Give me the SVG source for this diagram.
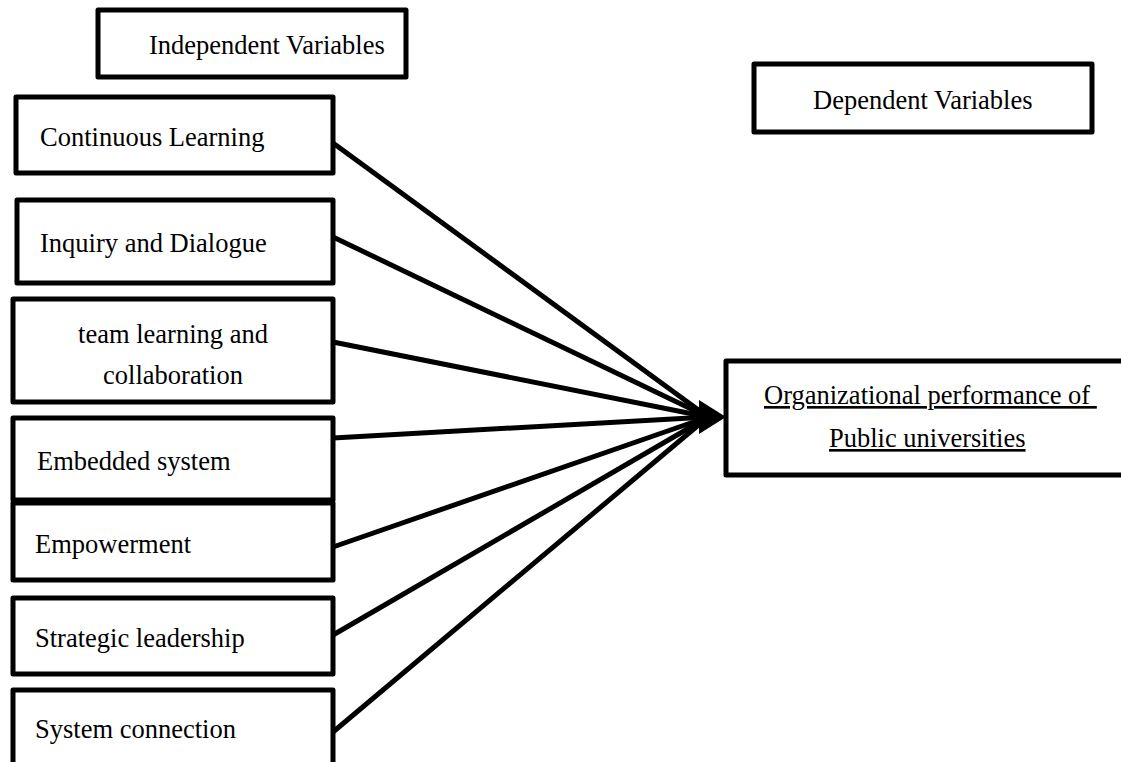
<svg xmlns="http://www.w3.org/2000/svg" width="1121" height="762" viewBox="0 0 1121 762">
<style>
.box{fill:#fff;stroke:#000;stroke-width:5;stroke-linejoin:round}
.t{font-family:"Liberation Serif","Times New Roman",serif;font-size:26.5px;fill:#000}
.u{text-decoration:underline;white-space:pre}
.c{stroke:#000;stroke-width:5;fill:none}
</style>
<rect width="1121" height="762" fill="#fff"/>
<g id="connectors">
<line class="c" x1="333" y1="143" x2="708" y2="417"/>
<line class="c" x1="333" y1="237" x2="708" y2="417"/>
<line class="c" x1="333" y1="342" x2="708" y2="417"/>
<line class="c" x1="333" y1="438" x2="708" y2="417"/>
<line class="c" x1="333" y1="547" x2="708" y2="417"/>
<line class="c" x1="333" y1="635" x2="708" y2="417"/>
<line class="c" x1="333" y1="732" x2="708" y2="417"/>
<polygon points="699,400 726,417 699,434" fill="#000"/>
</g>
<g id="independent-header"><rect class="box" x="98" y="10" width="308" height="67"/><text class="t" x="149" y="54">Independent Variables</text></g>
<g id="dependent-header"><rect class="box" x="754" y="64" width="338" height="68"/><text class="t" x="813" y="109">Dependent Variables</text></g>
<g id="continuous-learning"><rect class="box" x="16" y="97" width="317" height="76"/><text class="t" x="40" y="146">Continuous Learning</text></g>
<g id="inquiry-dialogue"><rect class="box" x="17" y="200" width="316" height="83"/><text class="t" x="40" y="252">Inquiry and Dialogue</text></g>
<g id="team-learning"><rect class="box" x="13" y="299" width="320" height="103"/><text class="t" x="173" y="343" text-anchor="middle">team learning and</text><text class="t" x="173" y="384" text-anchor="middle">collaboration</text></g>
<g id="embedded-system"><rect class="box" x="13" y="418" width="320" height="82"/><text class="t" x="37" y="470">Embedded system</text></g>
<g id="empowerment"><rect class="box" x="13" y="503" width="320" height="77"/><text class="t" x="35" y="553">Empowerment</text></g>
<g id="strategic-leadership"><rect class="box" x="13" y="598" width="320" height="76"/><text class="t" x="35" y="647">Strategic leadership</text></g>
<g id="system-connection"><rect class="box" x="13" y="690" width="320" height="90"/><text class="t" x="35" y="738">System connection</text></g>
<g id="organizational-performance"><rect class="box" x="726" y="361" width="410" height="114"/><text class="t u" x="764" y="404">Organizational performance of </text><text class="t u" x="829" y="447">Public universities</text></g>
</svg>
